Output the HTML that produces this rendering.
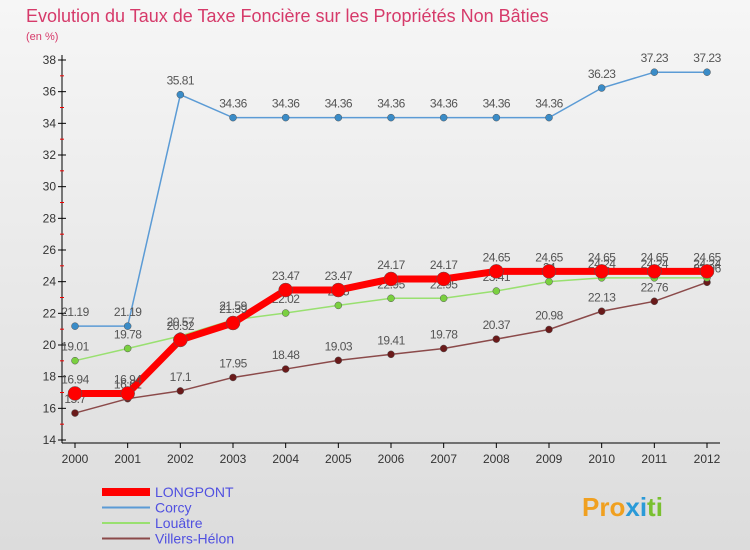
<!DOCTYPE html>
<html><head><meta charset="utf-8"><style>
body{margin:0;width:750px;height:550px;overflow:hidden;font-family:"Liberation Sans",sans-serif}
svg{display:block}
</style></head><body>
<svg id="c" width="750" height="550" xmlns="http://www.w3.org/2000/svg">
<defs><linearGradient id="bg" x1="0" y1="0" x2="0" y2="1"><stop offset="0" stop-color="#f6f6f6"/><stop offset="1" stop-color="#dcdcdc"/></linearGradient></defs>
<rect width="750" height="550" fill="url(#bg)"/>
<text x="26" y="22" font-size="18" fill="#d63a6a">Evolution du Taux de Taxe Foncière sur les Propriétés Non Bâties</text>
<text x="26" y="40" font-size="11" fill="#d63a6a">(en %)</text>
<g id="axes"></g><g id="series"></g><g id="legend"></g>
<text x="582" y="516" font-size="26" font-weight="bold" fill="#f0a020">Pro<tspan fill="#2a9ad8">x</tspan><tspan fill="#2a9ad8">i</tspan><tspan fill="#7ac030">ti</tspan></text>
</svg>
<script>
const years=[2000,2001,2002,2003,2004,2005,2006,2007,2008,2009,2010,2011,2012];
const yTicks=[14,16,18,20,22,24,26,28,30,32,34,36,38];
const longpont=[16.94,16.94,20.32,21.39,23.47,23.47,24.17,24.17,24.65,24.65,24.65,24.65,24.65];
const corcy=[21.19,21.19,35.81,34.36,34.36,34.36,34.36,34.36,34.36,34.36,36.23,37.23,37.23];
const louatre=[19.01,19.78,20.57,21.59,22.02,22.5,22.95,22.95,23.41,24,24.24,24.24,24.24];
const villers=[15.7,16.61,17.1,17.95,18.48,19.03,19.41,19.78,20.37,20.98,22.13,22.76,23.96];
const NS="http://www.w3.org/2000/svg";
const X=i=>75+i*(707-75)/12;
const Y=v=>440-(v-14)*(380/24);
function mk(t,a,p){const e=document.createElementNS(NS,t);for(const k in a)e.setAttribute(k,a[k]);p.appendChild(e);return e;}
const ax=document.getElementById('axes');
let l=mk('line',{x1:62,y1:55,x2:62,y2:443,stroke:'#000'},ax);


l=mk('line',{x1:62,y1:443,x2:720,y2:443,stroke:'#000'},ax);


yTicks.forEach(v=>{mk('line',{x1:58,y1:Y(v),x2:66,y2:Y(v),stroke:'#000'},ax);
 if(v<38)mk('line',{x1:60,y1:Y(v+1),x2:64,y2:Y(v+1),stroke:'#e00'},ax);
 const t=mk('text',{x:56,y:Y(v)+4,'font-size':12,'text-anchor':'end',fill:'#333'},ax);t.textContent=v;
 
 });
years.forEach((y,i)=>{mk('line',{x1:X(i),y1:443,x2:X(i),y2:448,stroke:'#000'},ax);
 const t=mk('text',{x:X(i),y:463,'font-size':12,'text-anchor':'middle',fill:'#333'},ax);t.textContent=y;
 
 });
const sg=document.getElementById('series');
function series(d,col,w,r,name,dotcol){
 const g=mk('g',{},sg);
 
 
 mk('polyline',{points:d.map((v,i)=>X(i)+','+Y(v)).join(' '),fill:'none',stroke:col,'stroke-width':w},g);
 d.forEach((v,i)=>{const c=mk('circle',{cx:X(i),cy:Y(v),r:r,fill:dotcol,stroke:'#555','stroke-width':0.5},g);
  
  
  const t=mk('text',{x:X(i),y:Y(v)-10,'font-size':12,'text-anchor':'middle',fill:'#555','letter-spacing':'-0.5'},g);t.textContent=v;});
}
series(corcy,'#5b9bd5',1.5,3.5,'corcy-series','#3a8cc8');
series(villers,'#8b4a4a',1.5,3.5,'villers-helon-series','#6a1a1a');
series(louatre,'#99e070',1.5,3.5,'louatre-series','#7ad040');
series(longpont,'#f00',7,7,'longpont-series','#f00');
const lg=document.getElementById('legend');
[['LONGPONT','#f00',8],['Corcy','#5b9bd5',2],['Louâtre','#99e070',2],['Villers-Hélon','#8b4a4a',2]].forEach((e,i)=>{
 const y=492+i*15.5;
 const g=mk('g',{},lg);
 
 
 mk('line',{x1:102,y1:y,x2:150,y2:y,stroke:e[1],'stroke-width':e[2]},g);
 const t=mk('text',{x:155,y:y+5,'font-size':14,fill:'#5050e0'},g);t.textContent=e[0];});
</script>
</body></html>
